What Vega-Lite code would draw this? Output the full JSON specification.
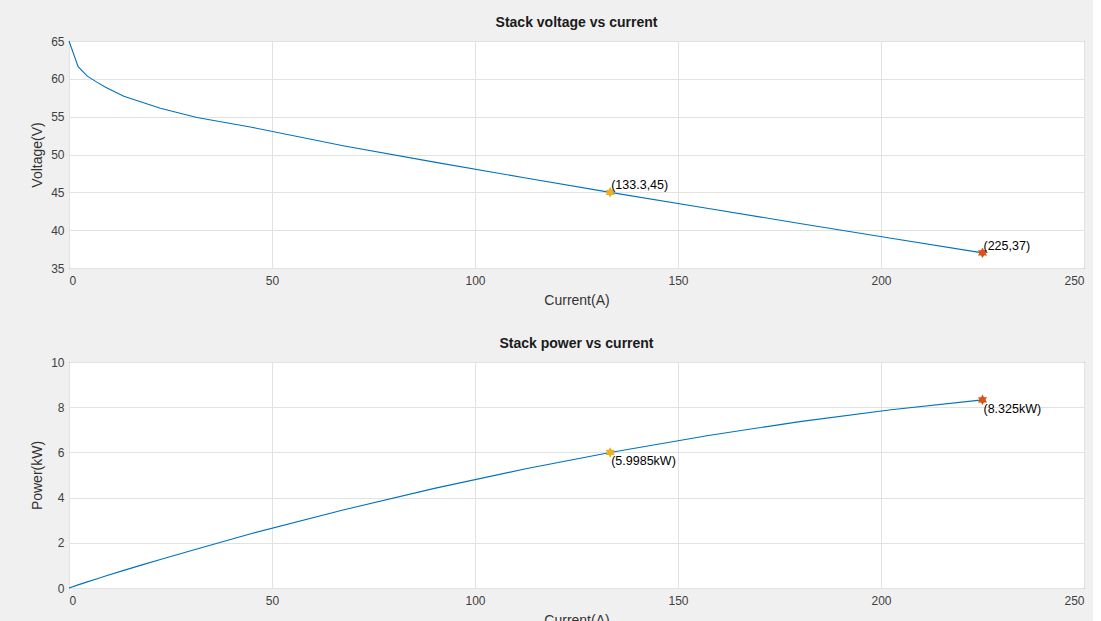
{
  "$schema": "https://vega.github.io/schema/vega-lite/v6.json",
  "background": "#f0f0f0",
  "padding": {"left": 30, "top": 15, "right": 8, "bottom": 6},
  "spacing": 28,
  "config": {
    "font": "Liberation Sans",
    "view": {"stroke": "#3a3a3a", "strokeWidth": 1, "fill": "white"},
    "axis": {
      "labelFont": "Liberation Sans",
      "labelFontSize": 12,
      "labelColor": "#404040",
      "titleFont": "Liberation Sans",
      "titleFontSize": 14,
      "titleFontWeight": "normal",
      "titleColor": "#333333",
      "gridColor": "#e2e2e2",
      "ticks": false,
      "domain": false
    },
    "axisX": {"labelPadding": 7, "titlePadding": 7},
    "axisY": {"labelPadding": 5, "titlePadding": 6},
    "title": {"fontSize": 14, "fontWeight": "bold", "color": "#1a1a1a", "offset": 5, "font": "Liberation Sans"}
  },
  "datasets": {
    "curvedata": [
      {"I": 0, "V": 65, "P": 0},
      {"I": 2.25, "V": 61.6, "P": 0.1386},
      {"I": 4.5, "V": 60.35, "P": 0.2716},
      {"I": 6.75, "V": 59.6, "P": 0.4023},
      {"I": 9, "V": 58.9, "P": 0.5301},
      {"I": 13.5, "V": 57.7, "P": 0.779},
      {"I": 18, "V": 56.9, "P": 1.0242},
      {"I": 22.5, "V": 56.1, "P": 1.2623},
      {"I": 31.5, "V": 54.9, "P": 1.7294},
      {"I": 45, "V": 53.6, "P": 2.412},
      {"I": 67.5, "V": 51.16, "P": 3.4533},
      {"I": 90, "V": 48.99, "P": 4.4091},
      {"I": 112.5, "V": 46.9, "P": 5.2763},
      {"I": 133.3, "V": 45, "P": 5.9985},
      {"I": 157.5, "V": 42.86, "P": 6.7505},
      {"I": 180, "V": 40.89, "P": 7.3602},
      {"I": 202.5, "V": 38.94, "P": 7.8854},
      {"I": 225, "V": 37, "P": 8.325}
    ],
    "pointdata": [
      {"I": 133.3, "V": 45, "P": 5.9985, "kind": "nominal", "vlab": "(133.3,45)", "plab": "(5.9985kW)"},
      {"I": 225, "V": 37, "P": 8.325, "kind": "max", "vlab": "(225,37)", "plab": "(8.325kW)"}
    ]
  },
  "vconcat": [
    {
      "width": 1015,
      "height": 227,
      "title": "Stack voltage vs current",
      "encoding": {
        "x": {"field": "I", "type": "quantitative", "title": "Current(A)", "scale": {"domain": [0, 250], "nice": false}, "axis": {"values": [0, 50, 100, 150, 200, 250]}},
        "y": {"field": "V", "type": "quantitative", "title": "Voltage(V)", "scale": {"domain": [35, 65], "nice": false, "zero": false}, "axis": {"values": [35, 40, 45, 50, 55, 60, 65]}}
      },
      "layer": [
        {
          "data": {"name": "curvedata"},
          "mark": {"type": "line", "color": "#0072BD", "strokeWidth": 1.1},
          "encoding": {}
        },
        {
          "data": {"name": "pointdata"},
          "mark": {"type": "point", "shape": "M0,-1L0.2887,-0.5L0.866,-0.5L0.577,0L0.866,0.5L0.2887,0.5L0,1L-0.2887,0.5L-0.866,0.5L-0.577,0L-0.866,-0.5L-0.2887,-0.5Z", "filled": true, "size": 110, "opacity": 1},
          "encoding": {
            "color": {"field": "kind", "type": "nominal", "scale": {"domain": ["nominal", "max"], "range": ["#EDB120", "#D95319"]}, "legend": null}
          }
        },
        {
          "data": {"name": "pointdata"},
          "mark": {"type": "text", "align": "left", "baseline": "alphabetic", "dx": 1, "dy": -3, "fontSize": 12.5, "color": "#000000"},
          "encoding": {"text": {"field": "vlab", "type": "nominal"}}
        }
      ]
    },
    {
      "width": 1015,
      "height": 226,
      "title": "Stack power vs current",
      "encoding": {
        "x": {"field": "I", "type": "quantitative", "title": "Current(A)", "scale": {"domain": [0, 250], "nice": false}, "axis": {"values": [0, 50, 100, 150, 200, 250]}},
        "y": {"field": "P", "type": "quantitative", "title": "Power(kW)", "scale": {"domain": [0, 10], "nice": false}, "axis": {"values": [0, 2, 4, 6, 8, 10]}}
      },
      "layer": [
        {
          "data": {"name": "curvedata"},
          "mark": {"type": "line", "color": "#0072BD", "strokeWidth": 1.1},
          "encoding": {}
        },
        {
          "data": {"name": "pointdata"},
          "mark": {"type": "point", "shape": "M0,-1L0.2887,-0.5L0.866,-0.5L0.577,0L0.866,0.5L0.2887,0.5L0,1L-0.2887,0.5L-0.866,0.5L-0.577,0L-0.866,-0.5L-0.2887,-0.5Z", "filled": true, "size": 110, "opacity": 1},
          "encoding": {
            "color": {"field": "kind", "type": "nominal", "scale": {"domain": ["nominal", "max"], "range": ["#EDB120", "#D95319"]}, "legend": null}
          }
        },
        {
          "data": {"name": "pointdata"},
          "mark": {"type": "text", "align": "left", "baseline": "top", "dx": 1, "dy": 3, "fontSize": 12.5, "color": "#000000"},
          "encoding": {"text": {"field": "plab", "type": "nominal"}}
        }
      ]
    }
  ]
}
